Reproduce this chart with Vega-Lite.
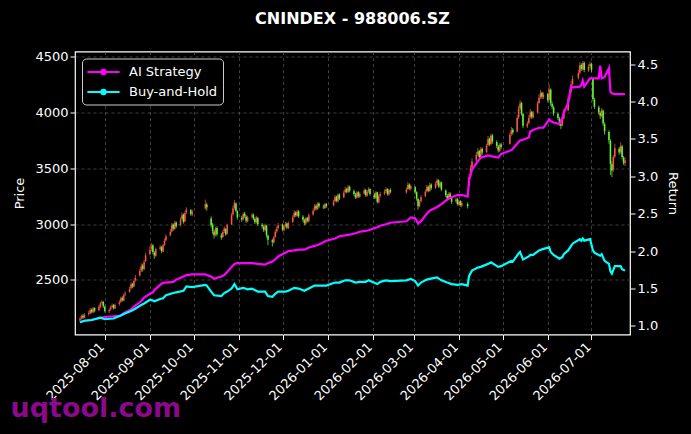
{
  "$schema": "https://vega.github.io/schema/vega-lite/v6.json",
  "description": "CNINDEX 988006.SZ daily candles with AI strategy and buy-and-hold returns",
  "width": 555,
  "height": 283,
  "autosize": {"type": "none"},
  "padding": {"left": 75, "top": 51.5, "right": 61, "bottom": 99.5},
  "background": "#000000",
  "title": {"text": "CNINDEX - 988006.SZ", "color": "white", "font": "DejaVu Sans", "fontSize": 16, "fontWeight": "bold", "offset": 24},
  "config": {
    "view": {"stroke": "white", "strokeWidth": 1.2},
    "axis": {
      "labelFont": "DejaVu Sans", "labelFontSize": 13, "labelColor": "white",
      "titleFont": "DejaVu Sans", "titleFontSize": 13, "titleFontWeight": "normal", "titleColor": "white",
      "tickColor": "white", "tickSize": 5, "domain": false,
      "gridColor": "#5a5a5a", "gridDash": [3, 3], "gridWidth": 0.7
    }
  },
  "datasets": {
    "px": [
      {"d":"2025-07-15","o":2140,"h":2170,"l":2125,"c":2150},
      {"d":"2025-07-16","o":2155,"h":2190,"l":2145,"c":2175},
      {"d":"2025-07-17","o":2180,"h":2195,"l":2150,"c":2165},
      {"d":"2025-07-18","o":2160,"h":2205,"l":2155,"c":2190},
      {"d":"2025-07-21","o":2195,"h":2225,"l":2180,"c":2205},
      {"d":"2025-07-22","o":2200,"h":2250,"l":2195,"c":2230},
      {"d":"2025-07-23","o":2235,"h":2245,"l":2200,"c":2215},
      {"d":"2025-07-24","o":2210,"h":2260,"l":2205,"c":2245},
      {"d":"2025-07-25","o":2250,"h":2255,"l":2210,"c":2225},
      {"d":"2025-07-28","o":2230,"h":2275,"l":2220,"c":2260},
      {"d":"2025-07-29","o":2255,"h":2305,"l":2250,"c":2290},
      {"d":"2025-07-30","o":2295,"h":2320,"l":2280,"c":2300},
      {"d":"2025-07-31","o":2305,"h":2310,"l":2250,"c":2265},
      {"d":"2025-08-01","o":2260,"h":2270,"l":2210,"c":2225},
      {"d":"2025-08-04","o":2220,"h":2245,"l":2205,"c":2230},
      {"d":"2025-08-05","o":2235,"h":2270,"l":2225,"c":2255},
      {"d":"2025-08-06","o":2260,"h":2290,"l":2245,"c":2270},
      {"d":"2025-08-07","o":2275,"h":2285,"l":2235,"c":2250},
      {"d":"2025-08-08","o":2245,"h":2290,"l":2240,"c":2275},
      {"d":"2025-08-11","o":2285,"h":2320,"l":2270,"c":2300},
      {"d":"2025-08-12","o":2305,"h":2350,"l":2295,"c":2335},
      {"d":"2025-08-13","o":2340,"h":2355,"l":2305,"c":2320},
      {"d":"2025-08-14","o":2315,"h":2380,"l":2310,"c":2365},
      {"d":"2025-08-15","o":2370,"h":2400,"l":2355,"c":2380},
      {"d":"2025-08-18","o":2395,"h":2440,"l":2385,"c":2420},
      {"d":"2025-08-19","o":2425,"h":2480,"l":2415,"c":2460},
      {"d":"2025-08-20","o":2465,"h":2475,"l":2425,"c":2445},
      {"d":"2025-08-21","o":2440,"h":2505,"l":2435,"c":2490},
      {"d":"2025-08-22","o":2495,"h":2545,"l":2485,"c":2520},
      {"d":"2025-08-25","o":2540,"h":2600,"l":2530,"c":2580},
      {"d":"2025-08-26","o":2585,"h":2650,"l":2570,"c":2620},
      {"d":"2025-08-27","o":2630,"h":2645,"l":2575,"c":2600},
      {"d":"2025-08-28","o":2595,"h":2680,"l":2590,"c":2660},
      {"d":"2025-08-29","o":2670,"h":2745,"l":2660,"c":2720},
      {"d":"2025-09-01","o":2730,"h":2800,"l":2720,"c":2770},
      {"d":"2025-09-02","o":2780,"h":2830,"l":2760,"c":2800},
      {"d":"2025-09-03","o":2810,"h":2820,"l":2730,"c":2750},
      {"d":"2025-09-04","o":2745,"h":2760,"l":2690,"c":2720},
      {"d":"2025-09-05","o":2715,"h":2790,"l":2705,"c":2775},
      {"d":"2025-09-08","o":2780,"h":2815,"l":2765,"c":2790},
      {"d":"2025-09-09","o":2795,"h":2805,"l":2740,"c":2760},
      {"d":"2025-09-10","o":2755,"h":2825,"l":2750,"c":2810},
      {"d":"2025-09-11","o":2815,"h":2870,"l":2805,"c":2850},
      {"d":"2025-09-12","o":2855,"h":2910,"l":2845,"c":2890},
      {"d":"2025-09-15","o":2900,"h":2955,"l":2890,"c":2930},
      {"d":"2025-09-16","o":2935,"h":3010,"l":2925,"c":2990},
      {"d":"2025-09-17","o":2995,"h":3005,"l":2940,"c":2960},
      {"d":"2025-09-18","o":2955,"h":3030,"l":2950,"c":3010},
      {"d":"2025-09-19","o":3015,"h":3025,"l":2965,"c":2980},
      {"d":"2025-09-22","o":2990,"h":3060,"l":2980,"c":3040},
      {"d":"2025-09-23","o":3045,"h":3105,"l":3035,"c":3080},
      {"d":"2025-09-24","o":3085,"h":3095,"l":3005,"c":3020},
      {"d":"2025-09-25","o":3025,"h":3115,"l":3015,"c":3100},
      {"d":"2025-09-26","o":3105,"h":3150,"l":3090,"c":3130},
      {"d":"2025-09-29","o":3125,"h":3135,"l":3075,"c":3090},
      {"d":"2025-09-30","o":3085,"h":3130,"l":3070,"c":3110},
      {"d":"2025-10-09","o":3140,"h":3220,"l":3130,"c":3180},
      {"d":"2025-10-10","o":3175,"h":3190,"l":3120,"c":3150},
      {"d":"2025-10-13","o":3050,"h":3070,"l":2970,"c":2990},
      {"d":"2025-10-14","o":2995,"h":3010,"l":2910,"c":2940},
      {"d":"2025-10-15","o":2935,"h":2950,"l":2870,"c":2900},
      {"d":"2025-10-16","o":2905,"h":2975,"l":2890,"c":2960},
      {"d":"2025-10-17","o":2965,"h":2980,"l":2890,"c":2910},
      {"d":"2025-10-20","o":2900,"h":2920,"l":2860,"c":2880},
      {"d":"2025-10-21","o":2885,"h":2945,"l":2875,"c":2930},
      {"d":"2025-10-22","o":2935,"h":2980,"l":2920,"c":2960},
      {"d":"2025-10-23","o":2955,"h":2965,"l":2895,"c":2910},
      {"d":"2025-10-24","o":2915,"h":3005,"l":2905,"c":2990},
      {"d":"2025-10-27","o":3000,"h":3100,"l":2990,"c":3080},
      {"d":"2025-10-28","o":3085,"h":3165,"l":3075,"c":3140},
      {"d":"2025-10-29","o":3145,"h":3215,"l":3130,"c":3190},
      {"d":"2025-10-30","o":3185,"h":3195,"l":3105,"c":3120},
      {"d":"2025-10-31","o":3115,"h":3125,"l":3040,"c":3060},
      {"d":"2025-11-03","o":3055,"h":3075,"l":3020,"c":3040},
      {"d":"2025-11-04","o":3045,"h":3105,"l":3035,"c":3090},
      {"d":"2025-11-05","o":3095,"h":3110,"l":3055,"c":3070},
      {"d":"2025-11-06","o":3065,"h":3080,"l":3010,"c":3030},
      {"d":"2025-11-07","o":3025,"h":3075,"l":3015,"c":3060},
      {"d":"2025-11-10","o":3065,"h":3100,"l":3050,"c":3080},
      {"d":"2025-11-11","o":3085,"h":3095,"l":3035,"c":3050},
      {"d":"2025-11-12","o":3045,"h":3060,"l":3000,"c":3020},
      {"d":"2025-11-13","o":3015,"h":3075,"l":3005,"c":3060},
      {"d":"2025-11-14","o":3055,"h":3065,"l":2985,"c":3000},
      {"d":"2025-11-17","o":2995,"h":3010,"l":2960,"c":2980},
      {"d":"2025-11-18","o":2975,"h":2990,"l":2930,"c":2950},
      {"d":"2025-11-19","o":2945,"h":3005,"l":2935,"c":2990},
      {"d":"2025-11-20","o":2985,"h":2995,"l":2880,"c":2900},
      {"d":"2025-11-21","o":2895,"h":2905,"l":2810,"c":2860},
      {"d":"2025-11-24","o":2855,"h":2870,"l":2800,"c":2840},
      {"d":"2025-11-25","o":2835,"h":2895,"l":2825,"c":2880},
      {"d":"2025-11-26","o":2885,"h":2950,"l":2875,"c":2930},
      {"d":"2025-11-27","o":2935,"h":2980,"l":2920,"c":2960},
      {"d":"2025-11-28","o":2965,"h":3010,"l":2950,"c":2990},
      {"d":"2025-12-01","o":2995,"h":3005,"l":2935,"c":2950},
      {"d":"2025-12-02","o":2945,"h":2995,"l":2935,"c":2980},
      {"d":"2025-12-03","o":2985,"h":3020,"l":2970,"c":3000},
      {"d":"2025-12-04","o":3005,"h":3015,"l":2955,"c":2970},
      {"d":"2025-12-05","o":2965,"h":3025,"l":2955,"c":3010},
      {"d":"2025-12-08","o":3020,"h":3080,"l":3010,"c":3060},
      {"d":"2025-12-09","o":3065,"h":3125,"l":3055,"c":3100},
      {"d":"2025-12-10","o":3105,"h":3115,"l":3065,"c":3080},
      {"d":"2025-12-11","o":3075,"h":3130,"l":3065,"c":3110},
      {"d":"2025-12-12","o":3115,"h":3125,"l":3055,"c":3070},
      {"d":"2025-12-15","o":3065,"h":3080,"l":3020,"c":3040},
      {"d":"2025-12-16","o":3035,"h":3050,"l":2990,"c":3010},
      {"d":"2025-12-17","o":3005,"h":3065,"l":2995,"c":3050},
      {"d":"2025-12-18","o":3055,"h":3065,"l":3015,"c":3030},
      {"d":"2025-12-19","o":3025,"h":3095,"l":3015,"c":3080},
      {"d":"2025-12-22","o":3085,"h":3140,"l":3075,"c":3120},
      {"d":"2025-12-23","o":3125,"h":3180,"l":3115,"c":3160},
      {"d":"2025-12-24","o":3165,"h":3175,"l":3125,"c":3140},
      {"d":"2025-12-25","o":3135,"h":3195,"l":3125,"c":3180},
      {"d":"2025-12-26","o":3185,"h":3195,"l":3145,"c":3160},
      {"d":"2025-12-29","o":3155,"h":3175,"l":3135,"c":3150},
      {"d":"2025-12-30","o":3145,"h":3190,"l":3135,"c":3175},
      {"d":"2025-12-31","o":3180,"h":3190,"l":3145,"c":3160},
      {"d":"2026-01-05","o":3170,"h":3220,"l":3160,"c":3200},
      {"d":"2026-01-06","o":3205,"h":3260,"l":3195,"c":3240},
      {"d":"2026-01-07","o":3245,"h":3255,"l":3195,"c":3210},
      {"d":"2026-01-08","o":3205,"h":3275,"l":3195,"c":3260},
      {"d":"2026-01-09","o":3265,"h":3275,"l":3215,"c":3230},
      {"d":"2026-01-12","o":3240,"h":3300,"l":3230,"c":3280},
      {"d":"2026-01-13","o":3285,"h":3335,"l":3275,"c":3310},
      {"d":"2026-01-14","o":3315,"h":3325,"l":3275,"c":3290},
      {"d":"2026-01-15","o":3285,"h":3350,"l":3280,"c":3330},
      {"d":"2026-01-16","o":3335,"h":3345,"l":3285,"c":3300},
      {"d":"2026-01-19","o":3295,"h":3310,"l":3255,"c":3270},
      {"d":"2026-01-20","o":3265,"h":3280,"l":3225,"c":3240},
      {"d":"2026-01-21","o":3235,"h":3295,"l":3230,"c":3280},
      {"d":"2026-01-22","o":3285,"h":3295,"l":3235,"c":3250},
      {"d":"2026-01-23","o":3245,"h":3285,"l":3235,"c":3270},
      {"d":"2026-01-26","o":3275,"h":3320,"l":3265,"c":3300},
      {"d":"2026-01-27","o":3305,"h":3315,"l":3245,"c":3260},
      {"d":"2026-01-28","o":3255,"h":3305,"l":3245,"c":3290},
      {"d":"2026-01-29","o":3295,"h":3330,"l":3280,"c":3310},
      {"d":"2026-01-30","o":3315,"h":3320,"l":3255,"c":3270},
      {"d":"2026-02-02","o":3265,"h":3280,"l":3225,"c":3240},
      {"d":"2026-02-03","o":3235,"h":3295,"l":3225,"c":3280},
      {"d":"2026-02-04","o":3285,"h":3290,"l":3185,"c":3200},
      {"d":"2026-02-05","o":3195,"h":3265,"l":3185,"c":3250},
      {"d":"2026-02-06","o":3255,"h":3290,"l":3240,"c":3270},
      {"d":"2026-02-09","o":3275,"h":3310,"l":3260,"c":3290},
      {"d":"2026-02-10","o":3295,"h":3330,"l":3280,"c":3310},
      {"d":"2026-02-11","o":3315,"h":3320,"l":3255,"c":3270},
      {"d":"2026-02-12","o":3265,"h":3315,"l":3255,"c":3300},
      {"d":"2026-02-13","o":3305,"h":3320,"l":3275,"c":3290},
      {"d":"2026-02-24","o":3285,"h":3330,"l":3270,"c":3310},
      {"d":"2026-02-25","o":3315,"h":3375,"l":3305,"c":3350},
      {"d":"2026-02-26","o":3355,"h":3365,"l":3305,"c":3320},
      {"d":"2026-02-27","o":3315,"h":3355,"l":3300,"c":3340},
      {"d":"2026-03-02","o":3330,"h":3340,"l":3270,"c":3290},
      {"d":"2026-03-03","o":3285,"h":3295,"l":3210,"c":3230},
      {"d":"2026-03-04","o":3225,"h":3235,"l":3130,"c":3160},
      {"d":"2026-03-05","o":3165,"h":3215,"l":3150,"c":3200},
      {"d":"2026-03-06","o":3205,"h":3260,"l":3195,"c":3240},
      {"d":"2026-03-09","o":3250,"h":3310,"l":3240,"c":3290},
      {"d":"2026-03-10","o":3295,"h":3350,"l":3285,"c":3330},
      {"d":"2026-03-11","o":3335,"h":3345,"l":3285,"c":3300},
      {"d":"2026-03-12","o":3295,"h":3370,"l":3290,"c":3350},
      {"d":"2026-03-13","o":3355,"h":3365,"l":3305,"c":3320},
      {"d":"2026-03-16","o":3325,"h":3380,"l":3315,"c":3360},
      {"d":"2026-03-17","o":3365,"h":3410,"l":3350,"c":3390},
      {"d":"2026-03-18","o":3395,"h":3400,"l":3325,"c":3340},
      {"d":"2026-03-19","o":3335,"h":3385,"l":3325,"c":3370},
      {"d":"2026-03-20","o":3375,"h":3380,"l":3295,"c":3310},
      {"d":"2026-03-23","o":3300,"h":3310,"l":3240,"c":3260},
      {"d":"2026-03-24","o":3255,"h":3270,"l":3210,"c":3230},
      {"d":"2026-03-25","o":3235,"h":3285,"l":3225,"c":3270},
      {"d":"2026-03-26","o":3275,"h":3285,"l":3225,"c":3240},
      {"d":"2026-03-27","o":3235,"h":3250,"l":3180,"c":3200},
      {"d":"2026-03-30","o":3205,"h":3240,"l":3190,"c":3220},
      {"d":"2026-03-31","o":3225,"h":3235,"l":3165,"c":3180},
      {"d":"2026-04-01","o":3175,"h":3215,"l":3165,"c":3200},
      {"d":"2026-04-02","o":3205,"h":3215,"l":3155,"c":3170},
      {"d":"2026-04-03","o":3165,"h":3205,"l":3150,"c":3190},
      {"d":"2026-04-07","o":3180,"h":3195,"l":3140,"c":3160},
      {"d":"2026-04-08","o":3350,"h":3450,"l":3340,"c":3420},
      {"d":"2026-04-09","o":3425,"h":3530,"l":3410,"c":3500},
      {"d":"2026-04-10","o":3505,"h":3590,"l":3490,"c":3560},
      {"d":"2026-04-13","o":3570,"h":3645,"l":3555,"c":3620},
      {"d":"2026-04-14","o":3625,"h":3680,"l":3610,"c":3650},
      {"d":"2026-04-15","o":3655,"h":3665,"l":3585,"c":3600},
      {"d":"2026-04-16","o":3595,"h":3690,"l":3590,"c":3670},
      {"d":"2026-04-17","o":3675,"h":3685,"l":3620,"c":3640},
      {"d":"2026-04-20","o":3645,"h":3720,"l":3635,"c":3700},
      {"d":"2026-04-21","o":3705,"h":3790,"l":3695,"c":3760},
      {"d":"2026-04-22","o":3765,"h":3775,"l":3700,"c":3720},
      {"d":"2026-04-23","o":3715,"h":3810,"l":3705,"c":3790},
      {"d":"2026-04-24","o":3795,"h":3805,"l":3720,"c":3740},
      {"d":"2026-04-27","o":3735,"h":3750,"l":3680,"c":3700},
      {"d":"2026-04-28","o":3695,"h":3710,"l":3640,"c":3660},
      {"d":"2026-04-29","o":3655,"h":3725,"l":3645,"c":3710},
      {"d":"2026-04-30","o":3715,"h":3730,"l":3670,"c":3690},
      {"d":"2026-05-06","o":3720,"h":3820,"l":3710,"c":3800},
      {"d":"2026-05-07","o":3805,"h":3870,"l":3790,"c":3840},
      {"d":"2026-05-08","o":3845,"h":3860,"l":3800,"c":3820},
      {"d":"2026-05-11","o":3830,"h":3975,"l":3820,"c":3950},
      {"d":"2026-05-12","o":3955,"h":4060,"l":3940,"c":4030},
      {"d":"2026-05-13","o":4035,"h":4110,"l":4020,"c":4080},
      {"d":"2026-05-14","o":4085,"h":4095,"l":3970,"c":3990},
      {"d":"2026-05-15","o":3985,"h":3995,"l":3860,"c":3880},
      {"d":"2026-05-18","o":3875,"h":3920,"l":3860,"c":3900},
      {"d":"2026-05-19","o":3905,"h":3975,"l":3895,"c":3950},
      {"d":"2026-05-20","o":3955,"h":4030,"l":3945,"c":4000},
      {"d":"2026-05-21","o":4005,"h":4015,"l":3940,"c":3960},
      {"d":"2026-05-22","o":3955,"h":4010,"l":3945,"c":3990},
      {"d":"2026-05-25","o":4000,"h":4100,"l":3990,"c":4080},
      {"d":"2026-05-26","o":4085,"h":4160,"l":4075,"c":4130},
      {"d":"2026-05-27","o":4135,"h":4200,"l":4120,"c":4170},
      {"d":"2026-05-28","o":4175,"h":4185,"l":4120,"c":4140},
      {"d":"2026-05-29","o":4135,"h":4180,"l":4120,"c":4160},
      {"d":"2026-06-01","o":4165,"h":4175,"l":4090,"c":4110},
      {"d":"2026-06-02","o":4115,"h":4250,"l":4105,"c":4200},
      {"d":"2026-06-03","o":4205,"h":4215,"l":4060,"c":4080},
      {"d":"2026-06-04","o":4075,"h":4095,"l":4030,"c":4050},
      {"d":"2026-06-05","o":4045,"h":4060,"l":3970,"c":3990},
      {"d":"2026-06-08","o":3985,"h":4000,"l":3930,"c":3950},
      {"d":"2026-06-09","o":3945,"h":3960,"l":3880,"c":3900},
      {"d":"2026-06-10","o":3895,"h":3915,"l":3850,"c":3880},
      {"d":"2026-06-11","o":3885,"h":3955,"l":3875,"c":3940},
      {"d":"2026-06-12","o":3945,"h":4030,"l":3935,"c":4010},
      {"d":"2026-06-15","o":4020,"h":4145,"l":4010,"c":4120},
      {"d":"2026-06-16","o":4125,"h":4210,"l":4115,"c":4180},
      {"d":"2026-06-17","o":4185,"h":4280,"l":4170,"c":4250},
      {"d":"2026-06-18","o":4255,"h":4330,"l":4240,"c":4300},
      {"d":"2026-06-22","o":4310,"h":4380,"l":4295,"c":4350},
      {"d":"2026-06-23","o":4355,"h":4450,"l":4340,"c":4420},
      {"d":"2026-06-24","o":4425,"h":4440,"l":4370,"c":4390},
      {"d":"2026-06-25","o":4385,"h":4460,"l":4375,"c":4440},
      {"d":"2026-06-26","o":4445,"h":4455,"l":4360,"c":4380},
      {"d":"2026-06-29","o":4375,"h":4430,"l":4360,"c":4410},
      {"d":"2026-06-30","o":4415,"h":4455,"l":4400,"c":4430},
      {"d":"2026-07-01","o":4435,"h":4445,"l":4360,"c":4380},
      {"d":"2026-07-02","o":4300,"h":4310,"l":4100,"c":4120},
      {"d":"2026-07-03","o":4115,"h":4130,"l":4030,"c":4050},
      {"d":"2026-07-06","o":4045,"h":4060,"l":3980,"c":4000},
      {"d":"2026-07-07","o":3995,"h":4010,"l":3940,"c":3970},
      {"d":"2026-07-08","o":3965,"h":4040,"l":3955,"c":4020},
      {"d":"2026-07-09","o":4015,"h":4025,"l":3880,"c":3900},
      {"d":"2026-07-10","o":3895,"h":3910,"l":3800,"c":3830},
      {"d":"2026-07-13","o":3825,"h":3840,"l":3720,"c":3750},
      {"d":"2026-07-14","o":3745,"h":3760,"l":3440,"c":3540},
      {"d":"2026-07-15","o":3535,"h":3560,"l":3420,"c":3480},
      {"d":"2026-07-16","o":3485,"h":3620,"l":3470,"c":3600},
      {"d":"2026-07-17","o":3605,"h":3720,"l":3590,"c":3680},
      {"d":"2026-07-20","o":3675,"h":3690,"l":3620,"c":3640},
      {"d":"2026-07-21","o":3645,"h":3730,"l":3630,"c":3700},
      {"d":"2026-07-22","o":3695,"h":3710,"l":3580,"c":3600},
      {"d":"2026-07-23","o":3595,"h":3610,"l":3530,"c":3550},
      {"d":"2026-07-24","o":3545,"h":3600,"l":3520,"c":3570}
    ],
    "ret": [
      {"d":"2025-07-15","AI Strategy":1.05,"Buy-and-Hold":1.05},
      {"d":"2025-07-18","AI Strategy":1.07,"Buy-and-Hold":1.07},
      {"d":"2025-07-23","AI Strategy":1.08,"Buy-and-Hold":1.08},
      {"d":"2025-07-29","AI Strategy":1.11,"Buy-and-Hold":1.11},
      {"d":"2025-08-01","AI Strategy":1.12,"Buy-and-Hold":1.09},
      {"d":"2025-08-07","AI Strategy":1.13,"Buy-and-Hold":1.10},
      {"d":"2025-08-12","AI Strategy":1.14,"Buy-and-Hold":1.14},
      {"d":"2025-08-14","AI Strategy":1.17,"Buy-and-Hold":1.16},
      {"d":"2025-08-19","AI Strategy":1.22,"Buy-and-Hold":1.20},
      {"d":"2025-08-21","AI Strategy":1.26,"Buy-and-Hold":1.22},
      {"d":"2025-08-26","AI Strategy":1.33,"Buy-and-Hold":1.28},
      {"d":"2025-08-28","AI Strategy":1.38,"Buy-and-Hold":1.30},
      {"d":"2025-09-01","AI Strategy":1.43,"Buy-and-Hold":1.35},
      {"d":"2025-09-03","AI Strategy":1.45,"Buy-and-Hold":1.34},
      {"d":"2025-09-04","AI Strategy":1.48,"Buy-and-Hold":1.33},
      {"d":"2025-09-08","AI Strategy":1.55,"Buy-and-Hold":1.36},
      {"d":"2025-09-10","AI Strategy":1.58,"Buy-and-Hold":1.37},
      {"d":"2025-09-12","AI Strategy":1.58,"Buy-and-Hold":1.41},
      {"d":"2025-09-17","AI Strategy":1.59,"Buy-and-Hold":1.44},
      {"d":"2025-09-19","AI Strategy":1.62,"Buy-and-Hold":1.45},
      {"d":"2025-09-24","AI Strategy":1.66,"Buy-and-Hold":1.47},
      {"d":"2025-09-26","AI Strategy":1.68,"Buy-and-Hold":1.53},
      {"d":"2025-09-30","AI Strategy":1.69,"Buy-and-Hold":1.52},
      {"d":"2025-10-09","AI Strategy":1.69,"Buy-and-Hold":1.55},
      {"d":"2025-10-10","AI Strategy":1.68,"Buy-and-Hold":1.54},
      {"d":"2025-10-13","AI Strategy":1.66,"Buy-and-Hold":1.46},
      {"d":"2025-10-15","AI Strategy":1.63,"Buy-and-Hold":1.41},
      {"d":"2025-10-20","AI Strategy":1.66,"Buy-and-Hold":1.40},
      {"d":"2025-10-22","AI Strategy":1.68,"Buy-and-Hold":1.44},
      {"d":"2025-10-24","AI Strategy":1.72,"Buy-and-Hold":1.46},
      {"d":"2025-10-27","AI Strategy":1.79,"Buy-and-Hold":1.50},
      {"d":"2025-10-29","AI Strategy":1.83,"Buy-and-Hold":1.56},
      {"d":"2025-10-31","AI Strategy":1.84,"Buy-and-Hold":1.49},
      {"d":"2025-11-04","AI Strategy":1.84,"Buy-and-Hold":1.51},
      {"d":"2025-11-07","AI Strategy":1.84,"Buy-and-Hold":1.49},
      {"d":"2025-11-10","AI Strategy":1.84,"Buy-and-Hold":1.50},
      {"d":"2025-11-14","AI Strategy":1.83,"Buy-and-Hold":1.46},
      {"d":"2025-11-19","AI Strategy":1.82,"Buy-and-Hold":1.46},
      {"d":"2025-11-21","AI Strategy":1.84,"Buy-and-Hold":1.40},
      {"d":"2025-11-24","AI Strategy":1.86,"Buy-and-Hold":1.39},
      {"d":"2025-11-26","AI Strategy":1.89,"Buy-and-Hold":1.43},
      {"d":"2025-11-28","AI Strategy":1.93,"Buy-and-Hold":1.46},
      {"d":"2025-12-03","AI Strategy":1.98,"Buy-and-Hold":1.46},
      {"d":"2025-12-05","AI Strategy":2.00,"Buy-and-Hold":1.47},
      {"d":"2025-12-09","AI Strategy":2.01,"Buy-and-Hold":1.51},
      {"d":"2025-12-12","AI Strategy":2.02,"Buy-and-Hold":1.50},
      {"d":"2025-12-16","AI Strategy":2.02,"Buy-and-Hold":1.47},
      {"d":"2025-12-19","AI Strategy":2.05,"Buy-and-Hold":1.50},
      {"d":"2025-12-23","AI Strategy":2.07,"Buy-and-Hold":1.54},
      {"d":"2025-12-26","AI Strategy":2.09,"Buy-and-Hold":1.54},
      {"d":"2025-12-31","AI Strategy":2.14,"Buy-and-Hold":1.54},
      {"d":"2026-01-06","AI Strategy":2.17,"Buy-and-Hold":1.58},
      {"d":"2026-01-09","AI Strategy":2.20,"Buy-and-Hold":1.58},
      {"d":"2026-01-13","AI Strategy":2.21,"Buy-and-Hold":1.61},
      {"d":"2026-01-16","AI Strategy":2.22,"Buy-and-Hold":1.61},
      {"d":"2026-01-20","AI Strategy":2.24,"Buy-and-Hold":1.58},
      {"d":"2026-01-23","AI Strategy":2.26,"Buy-and-Hold":1.59},
      {"d":"2026-01-27","AI Strategy":2.27,"Buy-and-Hold":1.59},
      {"d":"2026-01-29","AI Strategy":2.28,"Buy-and-Hold":1.61},
      {"d":"2026-02-04","AI Strategy":2.32,"Buy-and-Hold":1.56},
      {"d":"2026-02-06","AI Strategy":2.34,"Buy-and-Hold":1.59},
      {"d":"2026-02-10","AI Strategy":2.36,"Buy-and-Hold":1.61},
      {"d":"2026-02-13","AI Strategy":2.38,"Buy-and-Hold":1.60},
      {"d":"2026-02-24","AI Strategy":2.40,"Buy-and-Hold":1.61},
      {"d":"2026-02-27","AI Strategy":2.45,"Buy-and-Hold":1.63},
      {"d":"2026-03-02","AI Strategy":2.44,"Buy-and-Hold":1.60},
      {"d":"2026-03-04","AI Strategy":2.37,"Buy-and-Hold":1.54},
      {"d":"2026-03-06","AI Strategy":2.40,"Buy-and-Hold":1.58},
      {"d":"2026-03-10","AI Strategy":2.50,"Buy-and-Hold":1.62},
      {"d":"2026-03-12","AI Strategy":2.54,"Buy-and-Hold":1.63},
      {"d":"2026-03-17","AI Strategy":2.59,"Buy-and-Hold":1.65},
      {"d":"2026-03-20","AI Strategy":2.63,"Buy-and-Hold":1.61},
      {"d":"2026-03-24","AI Strategy":2.69,"Buy-and-Hold":1.58},
      {"d":"2026-03-27","AI Strategy":2.72,"Buy-and-Hold":1.56},
      {"d":"2026-03-31","AI Strategy":2.75,"Buy-and-Hold":1.55},
      {"d":"2026-04-03","AI Strategy":2.75,"Buy-and-Hold":1.56},
      {"d":"2026-04-07","AI Strategy":2.73,"Buy-and-Hold":1.54},
      {"d":"2026-04-08","AI Strategy":2.95,"Buy-and-Hold":1.67},
      {"d":"2026-04-10","AI Strategy":3.09,"Buy-and-Hold":1.74},
      {"d":"2026-04-14","AI Strategy":3.20,"Buy-and-Hold":1.78},
      {"d":"2026-04-16","AI Strategy":3.25,"Buy-and-Hold":1.79},
      {"d":"2026-04-21","AI Strategy":3.28,"Buy-and-Hold":1.83},
      {"d":"2026-04-23","AI Strategy":3.27,"Buy-and-Hold":1.85},
      {"d":"2026-04-28","AI Strategy":3.25,"Buy-and-Hold":1.79},
      {"d":"2026-04-30","AI Strategy":3.30,"Buy-and-Hold":1.80},
      {"d":"2026-05-07","AI Strategy":3.35,"Buy-and-Hold":1.87},
      {"d":"2026-05-08","AI Strategy":3.37,"Buy-and-Hold":1.86},
      {"d":"2026-05-12","AI Strategy":3.46,"Buy-and-Hold":1.97},
      {"d":"2026-05-13","AI Strategy":3.48,"Buy-and-Hold":1.99},
      {"d":"2026-05-15","AI Strategy":3.49,"Buy-and-Hold":1.89},
      {"d":"2026-05-19","AI Strategy":3.52,"Buy-and-Hold":1.93},
      {"d":"2026-05-20","AI Strategy":3.60,"Buy-and-Hold":1.95},
      {"d":"2026-05-22","AI Strategy":3.62,"Buy-and-Hold":1.95},
      {"d":"2026-05-26","AI Strategy":3.65,"Buy-and-Hold":2.01},
      {"d":"2026-05-29","AI Strategy":3.65,"Buy-and-Hold":2.03},
      {"d":"2026-06-02","AI Strategy":3.76,"Buy-and-Hold":2.05},
      {"d":"2026-06-03","AI Strategy":3.74,"Buy-and-Hold":1.99},
      {"d":"2026-06-05","AI Strategy":3.72,"Buy-and-Hold":1.95},
      {"d":"2026-06-09","AI Strategy":3.70,"Buy-and-Hold":1.90},
      {"d":"2026-06-11","AI Strategy":3.78,"Buy-and-Hold":1.92},
      {"d":"2026-06-12","AI Strategy":3.85,"Buy-and-Hold":1.96},
      {"d":"2026-06-15","AI Strategy":3.98,"Buy-and-Hold":2.01},
      {"d":"2026-06-17","AI Strategy":4.20,"Buy-and-Hold":2.07},
      {"d":"2026-06-18","AI Strategy":4.19,"Buy-and-Hold":2.10},
      {"d":"2026-06-23","AI Strategy":4.20,"Buy-and-Hold":2.16},
      {"d":"2026-06-24","AI Strategy":4.22,"Buy-and-Hold":2.14},
      {"d":"2026-06-25","AI Strategy":4.28,"Buy-and-Hold":2.17},
      {"d":"2026-06-26","AI Strategy":4.20,"Buy-and-Hold":2.14},
      {"d":"2026-06-30","AI Strategy":4.31,"Buy-and-Hold":2.16},
      {"d":"2026-07-02","AI Strategy":4.31,"Buy-and-Hold":2.01},
      {"d":"2026-07-03","AI Strategy":4.31,"Buy-and-Hold":1.98},
      {"d":"2026-07-06","AI Strategy":4.31,"Buy-and-Hold":1.95},
      {"d":"2026-07-07","AI Strategy":4.48,"Buy-and-Hold":1.94},
      {"d":"2026-07-08","AI Strategy":4.31,"Buy-and-Hold":1.96},
      {"d":"2026-07-10","AI Strategy":4.33,"Buy-and-Hold":1.87},
      {"d":"2026-07-13","AI Strategy":4.45,"Buy-and-Hold":1.83},
      {"d":"2026-07-14","AI Strategy":4.13,"Buy-and-Hold":1.73},
      {"d":"2026-07-15","AI Strategy":4.11,"Buy-and-Hold":1.70},
      {"d":"2026-07-17","AI Strategy":4.10,"Buy-and-Hold":1.80},
      {"d":"2026-07-21","AI Strategy":4.10,"Buy-and-Hold":1.80},
      {"d":"2026-07-22","AI Strategy":4.10,"Buy-and-Hold":1.76},
      {"d":"2026-07-24","AI Strategy":4.10,"Buy-and-Hold":1.74}
    ]
  },
  "encoding": {
    "x": {
      "field": "d",
      "type": "temporal",
      "scale": {
        "type": "utc",
        "domain": [
          {"year": 2025, "month": 7, "date": 15, "utc": true},
          {"year": 2026, "month": 7, "date": 24, "utc": true}
        ]
      },
      "axis": {
        "title": "uqtool.com",
        "titleColor": "#8a0a8a",
        "titleFont": "DejaVu Sans",
        "titleFontSize": 27,
        "titleFontWeight": "bold",
        "titleAnchor": "start",
        "titleAlign": "left",
        "titleBaseline": "alphabetic",
        "titleX": -65,
        "titleY": 82,
        "tickCount": {"interval": "month", "step": 1},
        "labelExpr": "utcFormat(datum.value, '%Y-%m-%d')",
        "labelAngle": -45,
        "labelAlign": "right",
        "labelBaseline": "middle",
        "labelPadding": 5,
        "labelOffset": -3,
        "labelOverlap": false,
        "labelFlush": false,
        "grid": true
      }
    }
  },
  "layer": [
    {
      "data": {"name": "px"},
      "layer": [
        {
          "mark": {"type": "rule", "strokeWidth": 0.8, "opacity": 0.9},
          "encoding": {
            "y": {
              "field": "l", "type": "quantitative",
              "scale": {"domain": [2012, 4545], "nice": false, "zero": false},
              "axis": {"title": "Price", "orient": "left", "grid": true, "values": [2500, 3000, 3500, 4000, 4500], "format": "d", "titlePadding": 8}
            },
            "y2": {"field": "h"},
            "color": {"condition": {"test": "datum.c >= datum.o", "value": "#ff5a46"}, "value": "#66ff3c"}
          }
        },
        {
          "mark": {"type": "bar", "size": 1.6, "opacity": 0.9},
          "encoding": {
            "y": {
              "field": "o", "type": "quantitative",
              "scale": {"domain": [2012, 4545], "nice": false, "zero": false},
              "axis": {"title": "Price", "orient": "left", "grid": true, "values": [2500, 3000, 3500, 4000, 4500], "format": "d", "titlePadding": 8}
            },
            "y2": {"field": "c"},
            "color": {"condition": {"test": "datum.c >= datum.o", "value": "#ff5a46"}, "value": "#66ff3c"}
          }
        }
      ]
    },
    {
      "data": {"name": "ret"},
      "transform": [{"fold": ["AI Strategy", "Buy-and-Hold"], "as": ["series", "ret"]}],
      "mark": {"type": "line", "strokeWidth": 2.2},
      "encoding": {
        "y": {
          "field": "ret", "type": "quantitative",
          "scale": {"domain": [0.886, 4.669], "nice": false, "zero": false},
          "axis": {"title": "Return", "orient": "right", "grid": false, "values": [1, 1.5, 2, 2.5, 3, 3.5, 4, 4.5], "format": ".1f", "titlePadding": 8}
        },
        "color": {
          "field": "series", "type": "nominal",
          "scale": {"domain": ["AI Strategy", "Buy-and-Hold"], "range": ["#ff00ff", "#00ffff"]},
          "legend": {
            "title": null,
            "orient": "top-left",
            "offset": 7,
            "fillColor": "#000000",
            "strokeColor": "#cccccc",
            "cornerRadius": 4,
            "padding": 5,
            "symbolType": "M-2.3,0H2.3M-0.3,0A0.3,0.3,0,1,0,0.3,0A0.3,0.3,0,1,0,-0.3,0",
            "symbolSize": 196,
            "symbolStrokeWidth": 2.2,
            "symbolOffset": 8,
            "labelOffset": 17,
            "labelColor": "white",
            "labelFont": "DejaVu Sans",
            "labelFontSize": 13,
            "rowPadding": 4
          }
        }
      }
    }
  ],
  "resolve": {"scale": {"y": "independent"}, "axis": {"y": "independent"}}
}
